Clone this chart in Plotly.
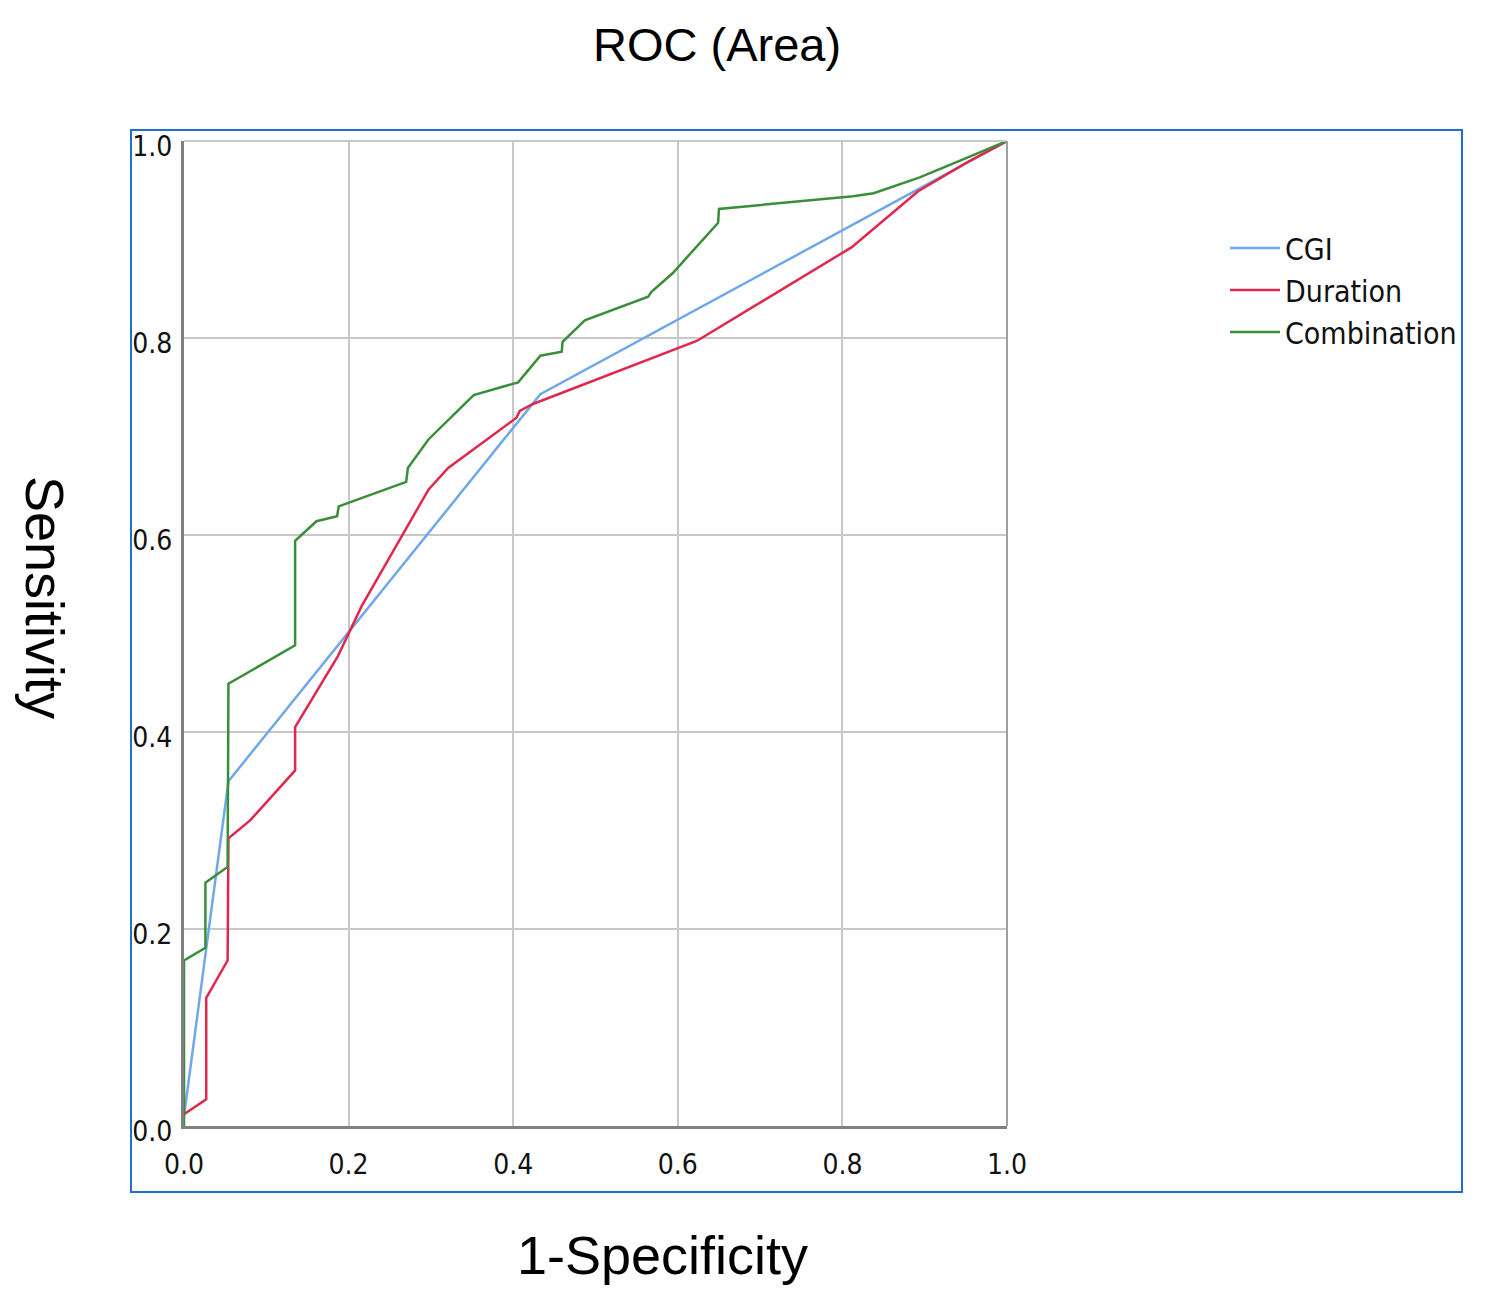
import plotly.graph_objects as go

# ---- data ----
cgi_x = [0.0, 0.054, 0.433, 1.0]
cgi_y = [0.010, 0.350, 0.743, 1.0]

duration_x = [0.0, 0.027, 0.027, 0.053, 0.054, 0.080, 0.135, 0.135, 0.187, 0.216,
              0.297, 0.321, 0.404, 0.408, 0.424, 0.493, 0.623, 0.811, 0.892, 0.951, 1.0]
duration_y = [0.012, 0.027, 0.130, 0.168, 0.292, 0.310, 0.361, 0.405, 0.477, 0.528,
              0.646, 0.668, 0.719, 0.726, 0.733, 0.755, 0.797, 0.892, 0.949, 0.978, 1.0]

combo_x = [0.0, 0.0, 0.026, 0.026, 0.053, 0.054, 0.135, 0.135, 0.161, 0.186, 0.188,
           0.270, 0.272, 0.297, 0.352, 0.406, 0.433, 0.459, 0.460, 0.487, 0.564, 0.568,
           0.594, 0.649, 0.650, 0.789, 0.813, 0.838, 0.894, 0.943, 1.0]
combo_y = [0.0, 0.168, 0.181, 0.247, 0.263, 0.449, 0.488, 0.594, 0.614, 0.619, 0.629,
           0.654, 0.668, 0.697, 0.742, 0.755, 0.782, 0.786, 0.796, 0.818, 0.842, 0.847,
           0.866, 0.917, 0.931, 0.942, 0.944, 0.947, 0.963, 0.980, 1.0]

tick_vals = [0.0, 0.2, 0.4, 0.6, 0.8, 1.0]
tick_text = ["0.0", "0.2", "0.4", "0.6", "0.8", "1.0"]

series_names = ["CGI", "Duration", "Combination"]
series_colors = ["#6fa8ea", "#e0284f", "#3a8e3a"]

NARROW = "Liberation Sans Narrow, Arial Narrow, DejaVu Sans Condensed, sans-serif"
SANS = "Liberation Sans, Arial, Helvetica, sans-serif"

fig = go.Figure()
for name, xs, ys, col in zip(series_names, [cgi_x, duration_x, combo_x],
                             [cgi_y, duration_y, combo_y], series_colors):
    fig.add_trace(go.Scatter(x=xs, y=ys, mode="lines", name=name,
                             line=dict(color=col, width=2.5)))

# page body has an 8px margin, so work in page coordinates minus 8
OFF = 8
W, H = 1488 - OFF, 1294 - OFF
L, R, T, B = 184 - OFF, 1007 - OFF, 141 - OFF, 1126 - OFF

def px(xp):
    return (xp - OFF - L) / (R - L)

def py(yp):
    return (B - (yp - OFF)) / (B - T)

fig.update_layout(
    width=W, height=H,
    margin=dict(l=L, r=W - R, t=T, b=H - B, pad=0),
    paper_bgcolor="white", plot_bgcolor="white",
    showlegend=True,
    legend=dict(x=px(1225), y=py(222), xanchor="left", yanchor="top",
                font=dict(family=NARROW, size=30, color="#111111"),
                bgcolor="rgba(0,0,0,0)", itemwidth=50, tracegroupgap=0),
    xaxis=dict(range=[0, 1], tickvals=tick_vals, ticktext=tick_text,
               showgrid=True, gridcolor="#c8c8c8", gridwidth=2,
               showline=True, linecolor="#808080", linewidth=3,
               zeroline=False, ticks="", ticklabelstandoff=11,
               tickfont=dict(family=NARROW, size=28, color="#111111")),
    yaxis=dict(range=[0, 1], tickvals=tick_vals, ticktext=tick_text,
               showgrid=True, gridcolor="#c8c8c8", gridwidth=2,
               showline=True, linecolor="#808080", linewidth=3,
               zeroline=False, ticks="", ticklabelstandoff=3, ticklabelshift=5,
               tickfont=dict(family=NARROW, size=28, color="#111111")),
)

# top and right light borders of the plot area
fig.add_shape(type="line", xref="paper", yref="paper", x0=0, x1=1, y0=1, y1=1,
              line=dict(color="#c8c8c8", width=2))
fig.add_shape(type="line", xref="paper", yref="paper", x0=1, x1=1, y0=0, y1=1,
              line=dict(color="#a0a0a0", width=2))

# outer blue frame
fig.add_shape(type="rect", xref="paper", yref="paper",
              x0=px(131), x1=px(1462), y0=py(1192), y1=py(130),
              line=dict(color="#1f6fd0", width=2), fillcolor="rgba(0,0,0,0)", layer="below")

fig.add_annotation(text="ROC (Area)", xref="paper", yref="paper", x=px(717), y=py(45),
                   showarrow=False, xanchor="center", yanchor="middle",
                   font=dict(family=SANS, size=47, color="#000000"))
fig.add_annotation(text="1-Specificity", xref="paper", yref="paper", x=px(662), y=py(1255),
                   showarrow=False, xanchor="center", yanchor="middle",
                   font=dict(family=SANS, size=54, color="#000000"))
fig.add_annotation(text="Sensitivity", xref="paper", yref="paper", x=px(45), y=py(597),
                   showarrow=False, xanchor="center", yanchor="middle", textangle=90,
                   font=dict(family=SANS, size=54, color="#000000"))

fig.write_html("out.html")
